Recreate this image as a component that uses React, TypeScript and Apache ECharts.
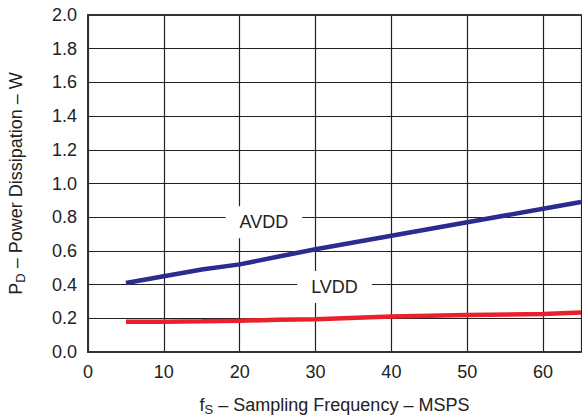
import React, { useEffect, useRef } from "react";
import * as echarts from "echarts";

const xTicks = [0, 10, 20, 30, 40, 50, 60];
const freq = [5, 10, 15, 20, 25, 30, 40, 50, 60, 65];
const avdd = [0.41, 0.45, 0.49, 0.52, 0.565, 0.61, 0.69, 0.77, 0.85, 0.89];
const lvdd = [0.18, 0.18, 0.182, 0.185, 0.192, 0.195, 0.21, 0.22, 0.225, 0.235];
const avddLabel = [23.2, 0.77];
const lvddLabel = [32.5, 0.386];

export default function App() {
  const ref = useRef<HTMLDivElement>(null);
  useEffect(() => {
    const chart = echarts.init(ref.current!, null, { renderer: "svg" });
    const font = "Liberation Sans, Arial, sans-serif";
    const labelStyle = {
      show: true,
      position: "inside",
      formatter: "{b}",
      color: "#222",
      fontSize: 18,
      fontFamily: font,
      backgroundColor: "#fff",
      padding: [7, 14, 7, 14],
    };
    chart.setOption({
      animation: false,
      textStyle: { fontFamily: font },
      grid: { left: 88, top: 15, right: 1, bottom: 65, outerBoundsMode: "none", containLabel: false },
      xAxis: [
        {
          type: "value",
          min: 0,
          max: 65,
          interval: 10,
          axisLine: { show: true, lineStyle: { color: "#333", width: 2 } },
          axisTick: { show: false },
          splitLine: { show: true, lineStyle: { color: "#222", width: 1.2 } },
          axisLabel: {
            color: "#222",
            fontSize: 18,
            margin: 11,
            showMaxLabel: false,
            formatter: (v: number) => (xTicks.includes(v) ? String(v) : ""),
          },
          name: "{a|f}{s|S}{a| – Sampling Frequency – MSPS}",
          nameLocation: "middle",
          nameGap: 42,
          nameTextStyle: {
            rich: {
              a: { fontSize: 18, color: "#222", fontFamily: font },
              s: { fontSize: 13, color: "#222", fontFamily: font, padding: [9, 0, 0, 0] },
            },
          },
        },
        {
          type: "value",
          position: "top",
          min: 0,
          max: 65,
          axisLine: { show: true, lineStyle: { color: "#333", width: 2 } },
          axisTick: { show: false },
          axisLabel: { show: false },
          splitLine: { show: false },
        },
      ],
      yAxis: {
        type: "value",
        min: 0,
        max: 2,
        interval: 0.2,
        axisLine: { show: true, lineStyle: { color: "#333", width: 2 } },
        axisTick: { show: false },
        splitLine: { show: true, lineStyle: { color: "#222", width: 1.2 } },
        axisLabel: {
          color: "#222",
          fontSize: 18,
          margin: 11,
          formatter: (v: number) => v.toFixed(1),
        },
        name: "{a|P}{s|D}{a| – Power Dissipation – W}",
        nameLocation: "middle",
        nameRotate: 90,
        nameGap: 61,
        nameTextStyle: {
          rich: {
            a: { fontSize: 18, color: "#222", fontFamily: font },
            s: { fontSize: 13, color: "#222", fontFamily: font, padding: [9, 0, 0, 0] },
          },
        },
      },
      series: [
        {
          name: "AVDD",
          type: "line",
          data: freq.map((f, i) => [f, avdd[i]]),
          showSymbol: false,
          lineStyle: { color: "#2b2d8e", width: 4.5 },
          z: 3,
          markPoint: {
            symbolSize: 0,
            data: [{ name: "AVDD", coord: avddLabel }],
            label: labelStyle,
          },
        },
        {
          name: "LVDD",
          type: "line",
          data: freq.map((f, i) => [f, lvdd[i]]),
          showSymbol: false,
          lineStyle: { color: "#e8212b", width: 4.5 },
          z: 3,
          markPoint: {
            symbolSize: 0,
            data: [{ name: "LVDD", coord: lvddLabel }],
            label: labelStyle,
          },
        },
      ],
    });
    return () => chart.dispose();
  }, []);
  return <div ref={ref} style={{ width: 582, height: 417, position: "absolute", left: 0, top: 0 }} />;
}
